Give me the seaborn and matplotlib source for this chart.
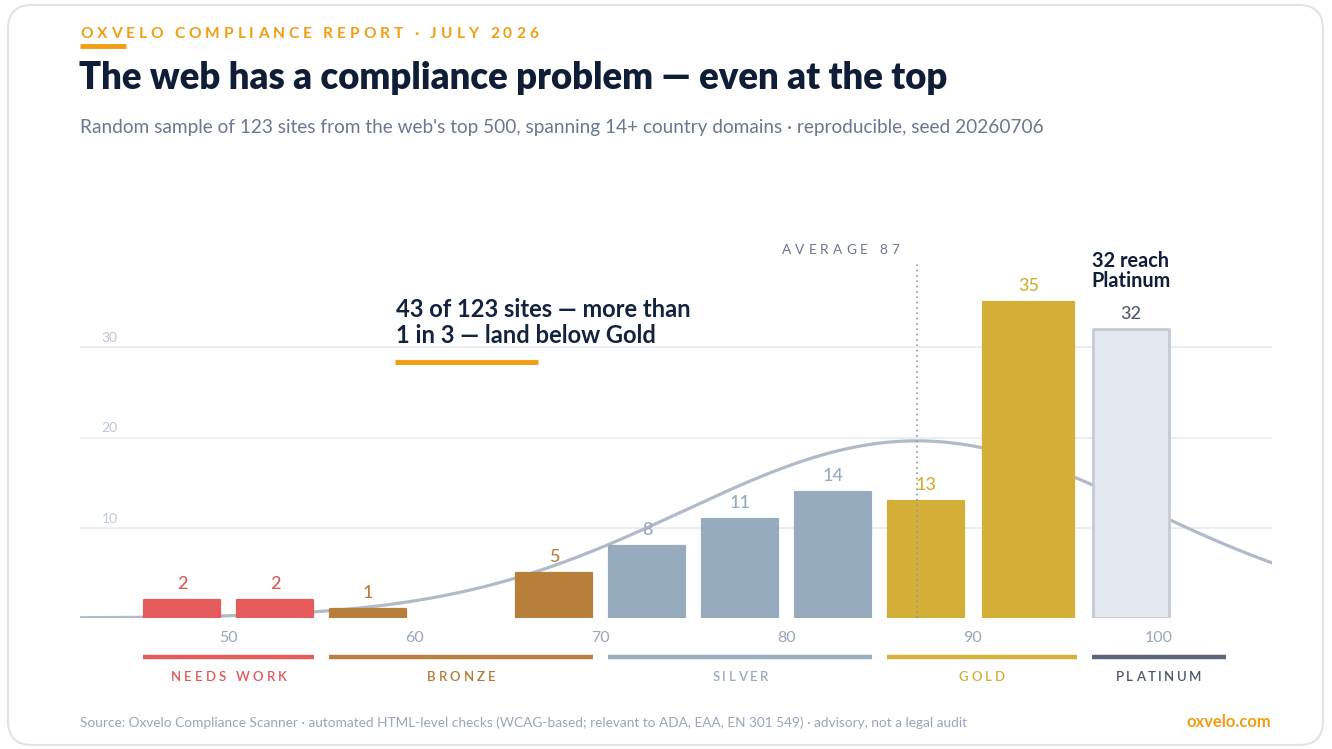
import numpy as np
import pandas as pd
import matplotlib
matplotlib.use("Agg")
import matplotlib.pyplot as plt
import matplotlib.patches as mpatches
import matplotlib.transforms as mtransforms
import seaborn as sns

# ---------------- data ----------------
bin_edges = [45, 50, 55, 60, 65, 70, 75, 80, 85, 90, 96, 101]
counts = [2, 2, 1, 0, 5, 8, 11, 14, 13, 35, 32]
bin_tiers = ["Needs work", "Needs work", "Bronze", "Bronze", "Bronze",
             "Silver", "Silver", "Silver", "Gold", "Gold", "Platinum"]
tier_order = ["Needs work", "Bronze", "Silver", "Gold", "Platinum"]
tier_labels = ["NEEDS WORK", "BRONZE", "SILVER", "GOLD", "PLATINUM"]
tier_edges = [45, 55, 70, 85, 96, 104]
x_ticks = [50, 60, 70, 80, 90, 100]
y_ticks = [10, 20, 30]
n_sites = 123
bin_width = 5
avg_score = 87
sd_score = 12.5

header = "OXVELO COMPLIANCE REPORT \u00b7 JULY 2026"
title = "The web has a compliance problem \u2014 even at the top"
subtitle = ("Random sample of 123 sites from the web's top 500, spanning 14+ country "
            "domains \u00b7 reproducible, seed 20260706")
callout = "43 of 123 sites \u2014 more than\n1 in 3 \u2014 land below Gold"
plat_note = "32 reach\nPlatinum"
avg_label = "AVERAGE 87"
footer = ("Source: Oxvelo Compliance Scanner \u00b7 automated HTML-level checks "
          "(WCAG-based; relevant to ADA, EAA, EN 301 549) \u00b7 advisory, not a legal audit")
brand = "oxvelo.com"

# ---------------- style ----------------
bar_fill = {"Needs work": "#e55a5a", "Bronze": "#b87f3b", "Silver": "#97abbf",
            "Gold": "#d4af37", "Platinum": "#e4e9ef"}
num_color = {"Needs work": "#e0565a", "Bronze": "#b87f3b", "Silver": "#97abbf",
             "Gold": "#d2ad35", "Platinum": "#4f5a70"}
band_color = {"Needs work": "#e35d5d", "Bronze": "#b8813f", "Silver": "#9aaec2",
              "Gold": "#d5b13e", "Platinum": "#5b6579"}
label_color = {"Needs work": "#e0585a", "Bronze": "#b47a38", "Silver": "#9aabbf",
               "Gold": "#d2ae3a", "Platinum": "#4d566a"}
ORANGE = "#f29d12"
NAVY = "#0f1d36"
SLATE = "#6b7790"

sns.set_theme(style="white")
plt.rcParams["font.family"] = ["Lato", "DejaVu Sans"]

W, H = 1332, 749
fig = plt.figure(figsize=(W / 100, H / 100), dpi=100)
fig.patch.set_facecolor("white")

# card border
card = mpatches.FancyBboxPatch((8, 4), W - 17, H - 9,
                               boxstyle="round,pad=0,rounding_size=24",
                               transform=mtransforms.IdentityTransform(),
                               facecolor="none", edgecolor="#dfe3e9", linewidth=1.5)
fig.add_artist(card)

ax_left, ax_right, ax_bottom, ax_top = 80, 1272, 618, 257
ax = fig.add_axes([ax_left / W, (H - ax_bottom) / H,
                   (ax_right - ax_left) / W, (ax_bottom - ax_top) / H])
ax.set_xlim(42, 106.1)
ax.set_ylim(0, 40)
ax.set_facecolor("none")
for s in ax.spines.values():
    s.set_visible(False)

# grid
ax.set_yticks(y_ticks)
ax.yaxis.grid(True, color="#e8edf3", linewidth=1.3, zorder=0)
ax.xaxis.grid(False)
ax.tick_params(axis="y", length=0, labelleft=False)
ax.set_axisbelow(True)
for v in y_ticks:
    ax.text(43.6, v + 1.0, str(v), ha="center", va="center", fontsize=10,
            color="#bfc7d6")

# normal curve
df = pd.DataFrame({
    "center": [(a + b) / 2 for a, b in zip(bin_edges[:-1], bin_edges[1:])],
    "count": counts,
    "tier": bin_tiers,
})
xs = np.linspace(42, 106.1, 400)
dens = n_sites * bin_width * np.exp(-(xs - avg_score) ** 2 / (2 * sd_score ** 2)) / (
    sd_score * np.sqrt(2 * np.pi))
sns.lineplot(x=xs, y=dens, color="#b0bac8", linewidth=2.3, ax=ax, zorder=2)

# bars
sns.histplot(data=df, x="center", weights="count", hue="tier", hue_order=tier_order,
             palette=bar_fill, bins=bin_edges, shrink=0.82, multiple="layer",
             alpha=1, linewidth=0, legend=False, ax=ax, zorder=3)
for p in ax.patches:
    if p.get_height() <= 0:
        p.set_visible(False)
        continue
    fc = p.get_facecolor()
    if np.allclose(fc[:3], matplotlib.colors.to_rgb(bar_fill["Platinum"]), atol=0.01):
        p.set_edgecolor("#c4cbd7")
        p.set_linewidth(2.0)
    else:
        p.set_edgecolor(fc)
        p.set_linewidth(1.6)
    p.set_joinstyle("round")
    p.set_zorder(3)

# value labels
for cx, c, t in zip(df["center"], counts, bin_tiers):
    if c <= 0:
        continue
    ax.annotate(str(c), (cx, c), xytext=(0, 5.5), textcoords="offset points",
                ha="center", va="bottom", fontsize=13, fontweight="medium",
                color=num_color[t], zorder=5)

# average line
ax.plot([avg_score, avg_score], [0, 39.4], color="#8c96a8", linewidth=1.2,
        linestyle=(0, (1, 2.2)), zorder=4)

# x ticks
ax.set_xticks(x_ticks)
ax.set_xticklabels([str(v) for v in x_ticks])
ax.tick_params(axis="x", length=0, pad=9, labelsize=11.5, labelcolor="#9aa5b8")
ax.set_xlabel("")
ax.set_ylabel("")

# tier bands
blend = mtransforms.blended_transform_factory(ax.transData, ax.transAxes)
band_y = (ax_bottom - 657) / (ax_bottom - ax_top)
for i, t in enumerate(tier_order):
    a, b = tier_edges[i] + 0.4, tier_edges[i + 1] - 0.4
    ax.plot([a, b], [band_y, band_y], transform=blend, clip_on=False,
            color=band_color[t], linewidth=3.2, solid_capstyle="butt")

# ---------------- helpers ----------------
renderer = fig.canvas.get_renderer()


def tw(s, **kw):
    t = fig.text(0, 0, s, **kw)
    w = t.get_window_extent(renderer).width
    t.remove()
    return w


def spaced(x, y, s, ha="left", target=None, spacing=0.0, **kw):
    hw = tw("H", **kw)
    pos = [0.0] + [tw(s[:i] + "H", **kw) - hw for i in range(1, len(s))]
    nat = tw(s, **kw)
    if target is not None:
        spacing = (target - nat) / (len(s) - 1)
    total = nat + spacing * (len(s) - 1)
    x0 = x - total / 2 if ha == "center" else (x - total if ha == "right" else x)
    for i, ch in enumerate(s):
        if ch == " ":
            continue
        fig.text((x0 + pos[i] + spacing * i) / W, 1 - y / H, ch, ha="left",
                 va="baseline", **kw)


def px(x, y):
    return x / W, 1 - y / H


# ---------------- texts ----------------
spaced(80, 38, header, target=458, fontsize=11.2, fontweight="bold", color=ORANGE)
fig.add_artist(plt.Line2D([80 / W, 126 / W], [1 - 45.5 / H] * 2, color=ORANGE,
                          linewidth=3.5, solid_capstyle="butt"))
fig.text(*px(79, 89), title, fontsize=26.3, fontweight="heavy", color=NAVY,
         va="baseline", ha="left")
fig.text(*px(80, 133), subtitle, fontsize=13.7, color=SLATE, va="baseline", ha="left")

fig.text(*px(396, 342.7), callout, fontsize=17.1, fontweight="bold", color="#13223d",
         va="baseline", ha="left", linespacing=1.12)
fig.add_artist(plt.Line2D([395 / W, 538 / W], [1 - 362 / H] * 2, color=ORANGE,
                          linewidth=3.5, solid_capstyle="butt"))

fig.text(*px(1131, 287), plat_note, fontsize=14.3, fontweight="bold", color=NAVY,
         va="baseline", ha="center", linespacing=1.0, multialignment="center")

spaced(899, 254, avg_label, ha="right", target=117, fontsize=9.8, color="#6b7790")

# tier labels
lab_widths = [116, 69, 56, 46, 86]
for i, t in enumerate(tier_order):
    cx_data = (tier_edges[i] + tier_edges[i + 1]) / 2
    cx = ax.transData.transform((cx_data, 0))[0]
    spaced(cx, 681, tier_labels[i], ha="center", target=lab_widths[i],
           fontsize=9.5, fontweight="semibold", color=label_color[t])

fig.text(*px(80, 727), footer, fontsize=9.8, color="#9aa5b8", va="baseline", ha="left")
fig.text(*px(1271, 727), brand, fontsize=12, fontweight="bold", color=ORANGE,
         va="baseline", ha="right")

fig.savefig("out.png", dpi=100, facecolor="white")
